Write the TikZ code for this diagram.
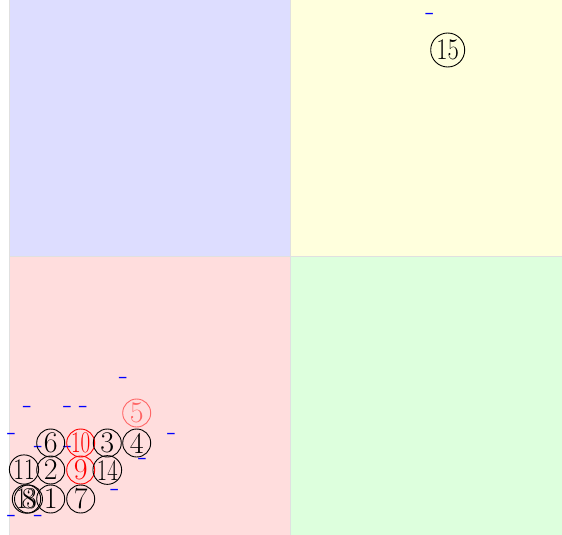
\documentclass[tikz,border=0pt]{standalone}
\usepackage{graphicx}
\definecolor{qblue}{RGB}{221,221,255}
\definecolor{qyellow}{RGB}{255,255,221}
\definecolor{qpink}{RGB}{255,221,221}
\definecolor{qgreen}{RGB}{221,255,221}
\begin{document}
\begin{tikzpicture}[x=1pt,y=-1pt,
  num/.style={circle,draw,line width=0.9pt,minimum size=28pt,inner sep=0pt,font=\fontsize{30}{32}\selectfont},
  bignum/.style={num,minimum size=34pt},
  redn/.style={num,draw=red,text=red},
  pale/.style={num,draw=red!60,text=red!60},
  dashmark/.style={anchor=base,inner sep=0pt,text height=0.27em,text depth=0pt,text=blue,font=\fontsize{30}{32}\selectfont},
  edge/.style={draw=black!12,line width=0.5pt}]
\useasboundingbox (0,0) rectangle (562,535);
\fill[white] (0,0) rectangle (562,535);
\fill[qblue] (9,0) rectangle (290,256);
\fill[qyellow] (290,0) rectangle (562,256);
\fill[qpink] (9,256) rectangle (290,535);
\fill[qgreen] (290,256) rectangle (562,535);
\path[edge] (9,0) -- (9,535) (290,0) -- (290,535) (9,256) -- (562,256);

% dashes
\node[dashmark] (d1) at (430,21) {-};
\node[dashmark] (d2) at (123.3,384) {-};
\node[dashmark] (d3) at (27.3,413) {-};
\node[dashmark] (d4) at (67.7,413) {-};
\node[dashmark] (d5) at (83.3,413) {-};
\node[dashmark] (d6) at (11.7,440.4) {-};
\node[dashmark] (d7) at (171.7,440.4) {-};
\node[dashmark] (d8) at (38.3,453.7) {-};
\node[dashmark] (d9) at (67.7,453.7) {-};
\node[dashmark] (d10) at (142.7,465.7) {-};
\node[dashmark] (d11) at (115,496.4) {-};
\node[dashmark] (d12) at (11.7,522.1) {-};
\node[dashmark] (d13) at (38.3,522.1) {-};

% numbered nodes
\node[bignum] (n15) at (447.7,50) {\scalebox{0.82}[1]{15}};
\node[pale] (n5) at (136.7,413) {5};
\node[num] (n6) at (50.7,443) {6};
\node[redn] (n10) at (80.7,443) {\scalebox{0.7}[1]{10}};
\node[num] (n3) at (107.3,443) {3};
\node[num] (n4) at (136.7,443) {4};
\node[num] (n11) at (24,469.5) {\scalebox{0.78}[1]{11}};
\node[num] (n2) at (50.7,470) {2};
\node[redn] (n9) at (80.7,470) {9};
\node[num] (n14) at (107.3,470) {\scalebox{0.75}[1]{14}};
\node[num] (n13) at (26.5,499) {\scalebox{0.72}[1]{13}};
\node[num] (n8) at (28.5,499) {8};
\node[num] (n1) at (50.7,499) {1};
\node[num] (n7) at (80.7,499) {7};
\end{tikzpicture}
\end{document}
